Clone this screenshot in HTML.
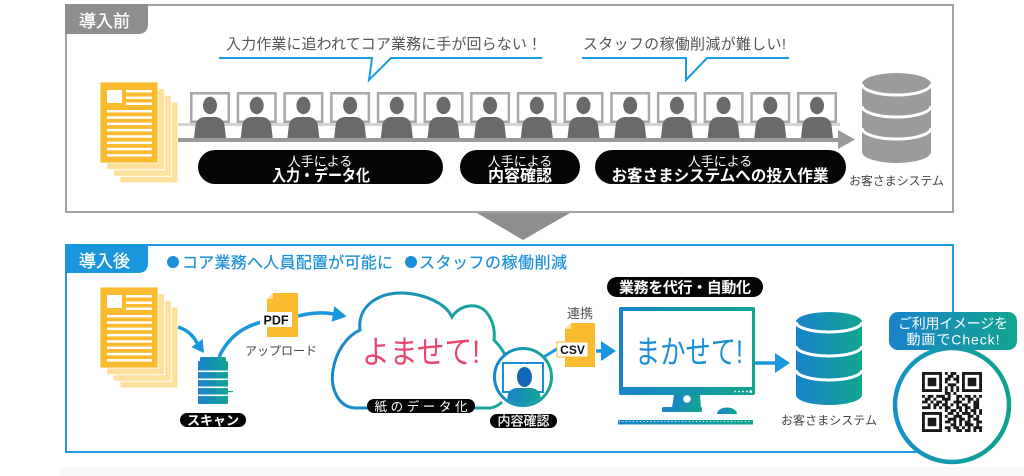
<!DOCTYPE html>
<html lang="ja"><head><meta charset="utf-8">
<style>
html,body{margin:0;padding:0;background:#fff;}
body{width:1024px;height:476px;overflow:hidden;}
svg{display:block;}
text{font-family:"Liberation Sans","Noto Sans CJK JP",sans-serif;}
</style></head>
<body>
<svg width="1024" height="476" viewBox="0 0 1024 476" xmlns="http://www.w3.org/2000/svg">
<defs>
  <linearGradient id="bt" x1="0" y1="0" x2="1" y2="0">
    <stop offset="0" stop-color="#1a82cc"/><stop offset="1" stop-color="#12a58f"/>
  </linearGradient>
  <linearGradient id="cg" gradientUnits="userSpaceOnUse" x1="330" y1="0" x2="510" y2="0">
    <stop offset="0" stop-color="#1a86cf"/><stop offset="1" stop-color="#16a894"/>
  </linearGradient>
  <linearGradient id="pg" gradientUnits="userSpaceOnUse" x1="494" y1="0" x2="552" y2="0">
    <stop offset="0" stop-color="#1a86cf"/><stop offset="1" stop-color="#16a894"/>
  </linearGradient>
  <linearGradient id="qg" gradientUnits="userSpaceOnUse" x1="893" y1="0" x2="1011" y2="0">
    <stop offset="0" stop-color="#1692c6"/><stop offset="1" stop-color="#10a28c"/>
  </linearGradient>
  <clipPath id="pc"><circle cx="523" cy="377" r="27"/></clipPath>
  <g id="ws">
    <rect x="1.25" y="93.25" width="37.5" height="28.5" fill="#fff" stroke="#a8a8a8" stroke-width="2.5"/>
    <path d="M4,138 L5.5,125 Q7,118 14,117 L26,117 Q33,118 34.5,125 L36,138 Z" fill="#6a6a6a"/>
    <ellipse cx="20" cy="105.5" rx="7" ry="8.7" fill="#6a6a6a"/>
  </g>
  <g id="docs">
    <rect x="120" y="102" width="58" height="81" fill="#fedf9b" stroke="#fff" stroke-width="1"/>
    <rect x="113.3" y="95.3" width="58" height="81" fill="#fedf9b" stroke="#fff" stroke-width="1"/>
    <rect x="106.7" y="88.7" width="58" height="81" fill="#fedf9b" stroke="#fff" stroke-width="1"/>
    <rect x="100" y="82" width="58" height="81" fill="#fbbb2e" stroke="#fff" stroke-width="0.8"/>
    <g fill="#fff">
      <rect x="107" y="90" width="15" height="13"/>
      <rect x="126" y="90" width="26" height="2.5"/>
      <rect x="126" y="96.5" width="26" height="2.5"/>
      <rect x="126" y="102.5" width="26" height="2.5"/>
      <rect x="107" y="110" width="45" height="2.5"/>
      <rect x="107" y="116.3" width="45" height="2.5"/>
      <rect x="107" y="122.6" width="45" height="2.5"/>
      <rect x="107" y="128.9" width="45" height="2.5"/>
      <rect x="107" y="135.2" width="45" height="2.5"/>
      <rect x="107" y="141.5" width="45" height="2.5"/>
      <rect x="107" y="147.8" width="45" height="2.5"/>
      <rect x="107" y="154.1" width="45" height="2.5"/>
    </g>
  </g>
</defs>

<!-- bottom faint band -->
<rect x="60" y="467" width="964" height="9" fill="#f8f8f8"/>

<!-- ===== TOP BOX ===== -->
<rect x="66" y="5" width="887" height="207" fill="#fff" stroke="#a2a2a2" stroke-width="2"/>
<path d="M65,4 H148 V24 Q148,34 138,34 H65 Z" fill="#8e8e8e"/>
<text x="104.5" y="27" font-size="17" fill="#fff" text-anchor="middle" stroke="#fff" stroke-width="0.3">導入前</text>

<!-- speech -->
<text x="226" y="49" font-size="15" fill="#555" textLength="316">入力作業に追われてコア業務に手が回らない！</text>
<path d="M219,58 H372 L369,80 L391,58 H542" fill="none" stroke="#1a9be0" stroke-width="2"/>
<text x="583" y="49" font-size="15" fill="#555" textLength="203">スタッフの稼働削減が難しい!</text>
<path d="M582,58 H686 L686,80 L707,58 H789" fill="none" stroke="#1a9be0" stroke-width="2"/>

<!-- doc stack top -->
<use href="#docs"/>

<!-- desk + line -->
<rect x="178" y="123" width="662" height="3" fill="#d4d4d4"/>
<use href="#ws" x="190"/>
<use href="#ws" x="236.7"/>
<use href="#ws" x="283.4"/>
<use href="#ws" x="330.1"/>
<use href="#ws" x="376.8"/>
<use href="#ws" x="423.5"/>
<use href="#ws" x="470.1"/>
<use href="#ws" x="516.8"/>
<use href="#ws" x="563.5"/>
<use href="#ws" x="610.2"/>
<use href="#ws" x="656.9"/>
<use href="#ws" x="703.6"/>
<use href="#ws" x="750.3"/>
<use href="#ws" x="797"/>
<rect x="178" y="138" width="662" height="4" fill="#9a9a9a"/>
<polygon points="838,130 838,149 855,139.5" fill="#9a9a9a"/>

<!-- pills -->
<rect x="198" y="150" width="245" height="34" rx="17" fill="#050505"/>
<text x="320" y="166" font-size="13" fill="#fff" text-anchor="middle">人手による</text>
<text x="321" y="181" font-size="16" font-weight="bold" fill="#fff" text-anchor="middle" textLength="98" lengthAdjust="spacingAndGlyphs">入力・データ化</text>

<rect x="460" y="150" width="120" height="34" rx="17" fill="#050505"/>
<text x="520" y="166" font-size="13" fill="#fff" text-anchor="middle">人手による</text>
<text x="520" y="181" font-size="16" font-weight="bold" fill="#fff" text-anchor="middle">内容確認</text>

<rect x="595" y="150" width="251" height="34" rx="17" fill="#050505"/>
<text x="720" y="166" font-size="13" fill="#fff" text-anchor="middle">人手による</text>
<text x="720" y="181" font-size="16" font-weight="bold" fill="#fff" text-anchor="middle" textLength="217" lengthAdjust="spacingAndGlyphs">お客さまシステムへの投入作業</text>

<!-- top DB -->
<g fill="#9b9b9b">
  <path d="M862,84 V152 A34.5,11 0 0 0 931,152 V84 Z"/>
  <ellipse cx="896.5" cy="84" rx="34.5" ry="11"/>
</g>
<g fill="none" stroke="#fff" stroke-width="3">
  <path d="M862,84 A34.5,11 0 0 0 931,84"/>
  <path d="M862,106 A34.5,11 0 0 0 931,106"/>
  <path d="M862,128 A34.5,11 0 0 0 931,128"/>
</g>
<text x="849" y="185" font-size="12" fill="#444" textLength="95">お客さまシステム</text>

<!-- down arrow -->
<polygon points="477,213 570,213 523,240" fill="#8e8e8e"/>

<!-- ===== BOTTOM BOX ===== -->
<rect x="66" y="245" width="887" height="207" fill="none" stroke="#1e9be0" stroke-width="2"/>
<path d="M65,244 H148 V263 Q148,273 138,273 H65 Z" fill="#1a96dc"/>
<text x="104.5" y="267" font-size="17" fill="#fff" text-anchor="middle" stroke="#fff" stroke-width="0.3">導入後</text>
<circle cx="173" cy="262" r="6" fill="#1a8fd8"/>
<circle cx="411" cy="262" r="6" fill="#1a8fd8"/>
<text x="182" y="268" font-size="16" fill="#1a8fd8" stroke="#1a8fd8" stroke-width="0.2" textLength="211">コア業務へ人員配置が可能に</text>
<text x="419" y="268" font-size="16" fill="#1a8fd8" stroke="#1a8fd8" stroke-width="0.2" textLength="148">スタッフの稼働削減</text>

<!-- docs bottom -->
<use href="#docs" y="205"/>

<!-- arrows blue -->
<g fill="none" stroke="#1a96de" stroke-width="3.5">
  <path d="M178,327 Q191,331 197,343"/>
  <path d="M219,357 Q232,329 262,322"/>
  <path d="M298,316 Q318,311 334,314"/>
  <path d="M542,358 L562,346" stroke-width="3"/>
  <path d="M596,351 H603"/>
  <path d="M755,363 H777"/>
</g>
<g fill="#1a96de">
  <polygon points="204,353 191.3,347.1 202.7,338.9"/>
  <polygon points="346.7,316.5 331.6,321.8 334.4,306.2"/>
  <polygon points="601,341 601,361 616,351"/>
  <polygon points="775,353 775,373 790,363"/>
</g>

<!-- scanner -->
<rect x="200" y="357" width="26" height="6" rx="1.5" fill="url(#bt)"/>
<rect x="198" y="361" width="30" height="43" rx="1.5" fill="url(#bt)"/>
<g fill="#fff">
  <rect x="198" y="370.5" width="30" height="1.6"/>
  <rect x="198" y="378.5" width="30" height="1.6"/>
  <rect x="198" y="386.5" width="30" height="1.6"/>
  <rect x="198" y="394.5" width="30" height="1.6"/>
</g>
<rect x="228" y="391" width="5" height="1.2" fill="#17a394"/>
<rect x="180" y="413" width="66" height="14" rx="7" fill="#050505"/>
<text x="213" y="425" font-size="13" font-weight="bold" fill="#fff" text-anchor="middle">スキャン</text>

<!-- PDF -->
<polygon points="273,293 298,293 298,337 267,337 267,299" fill="#fbbb2e"/>
<polygon points="267,299 273,299 273,293" fill="#fedf9b"/>
<rect x="260" y="312" width="32" height="15" fill="#fff"/>
<text x="276" y="324.5" font-size="12.5" font-weight="bold" fill="#111" text-anchor="middle">PDF</text>
<text x="245" y="355" font-size="12" fill="#444" textLength="72">アップロード</text>

<!-- cloud -->
<path d="M355,408 C338,407 330,388 333,370 C336,351 347,336 360,330 C357,306 379,292 403,293 C426,294 446,304 452,317 C459,305 478,301 487,313 C494,322 495,333 494,340 C499,345 503,350 506,357" fill="none" stroke="url(#cg)" stroke-width="3"/>
<path d="M355,408 L490,408 Q497,407 502,402" fill="none" stroke="url(#cg)" stroke-width="3"/>
<text x="362" y="363" font-size="32" fill="#e8466b" textLength="118" lengthAdjust="spacingAndGlyphs">よませて!</text>
<rect x="367" y="399" width="108" height="14" rx="7" fill="#050505"/>
<text x="421" y="411" font-size="12.5" fill="#fff" text-anchor="middle" textLength="93">紙のデータ化</text>

<!-- person circle -->
<circle cx="523" cy="377" r="28.5" fill="#fff" stroke="url(#pg)" stroke-width="3"/>
<rect x="503" y="363" width="40" height="29" fill="#fff" stroke="#1a8fd8" stroke-width="2"/>
<path d="M506,406 L508,394 Q510,389 516,388 L532,388 Q538,389 540,394 L542,406 Z" fill="url(#bt)" clip-path="url(#pc)"/>
<ellipse cx="524.5" cy="377" rx="7.5" ry="10" fill="#1467b3"/>
<rect x="490" y="414" width="67" height="14" rx="7" fill="#050505"/>
<text x="523.5" y="425.5" font-size="13" fill="#fff" text-anchor="middle" stroke="#fff" stroke-width="0.2">内容確認</text>

<!-- CSV -->
<text x="580" y="318" font-size="13" fill="#555" text-anchor="middle">連携</text>
<polygon points="571,323 595,323 595,367 565,367 565,329" fill="#fbbb2e"/>
<polygon points="565,329 571,329 571,323" fill="#fedf9b"/>
<rect x="557" y="342" width="31" height="15" fill="#fff" stroke="#fbbb2e" stroke-width="1"/>
<text x="572.5" y="354" font-size="12" font-weight="bold" fill="#111" text-anchor="middle">CSV</text>

<!-- monitor -->
<rect x="607" y="277" width="156" height="20" rx="10" fill="#050505"/>
<text x="685" y="292.5" font-size="15" font-weight="bold" fill="#fff" text-anchor="middle" textLength="132">業務を代行・自動化</text>
<rect x="619" y="307" width="136" height="88" rx="2" fill="url(#bt)"/>
<rect x="623" y="311" width="129" height="76" fill="#fff"/>
<g fill="#fff">
  <circle cx="735" cy="391.5" r="0.9"/><circle cx="739" cy="391.5" r="0.9"/>
  <circle cx="743" cy="391.5" r="0.9"/><circle cx="747" cy="391.5" r="0.9"/>
  <rect x="749.5" y="390.3" width="2.5" height="2.5"/>
</g>
<text x="635" y="363" font-size="32" fill="#1a8fd8" textLength="108" lengthAdjust="spacingAndGlyphs">まかせて!</text>
<polygon points="674,395 700,395 701,408 672,408" fill="url(#bt)"/>
<circle cx="687" cy="399" r="3.8" fill="#fff"/>
<rect x="662" y="407" width="40" height="5" rx="1.5" fill="url(#bt)"/>
<path d="M717,414 A10,6.5 0 0 1 737,414 Z" fill="url(#bt)"/>
<rect x="618" y="420" width="135" height="4.5" fill="url(#bt)"/>
<line x1="619" y1="421.5" x2="752" y2="421.5" stroke="#fff" stroke-width="1" stroke-dasharray="1 2.5"/>

<!-- bottom DB -->
<g fill="url(#bt)">
  <path d="M796,322 V395 A33,10 0 0 0 862,395 V322 Z"/>
  <ellipse cx="829" cy="322" rx="33" ry="10"/>
</g>
<g fill="none" stroke="#fff" stroke-width="3">
  <path d="M796,322 A33,10 0 0 0 862,322"/>
  <path d="M796,346 A33,10 0 0 0 862,346"/>
  <path d="M796,370 A33,10 0 0 0 862,370"/>
</g>
<text x="781" y="424.5" font-size="12" fill="#444" textLength="96">お客さまシステム</text>

<!-- QR bubble -->
<circle cx="952" cy="405" r="57" fill="#fff" stroke="url(#qg)" stroke-width="4.5"/>
<rect x="889" y="312" width="128" height="38" rx="9" fill="url(#bt)"/>
<text x="953" y="328.5" font-size="14" fill="#fff" text-anchor="middle" textLength="110">ご利用イメージを</text>
<text x="953" y="344.5" font-size="14" fill="#fff" text-anchor="middle" textLength="93">動画でCheck!</text>
<g transform="translate(922,372) scale(2.857)" fill="#1a1a1a">
  <path d="M0,0h7v7h-7z M1,1v5h5v-5z M2,2h3v3h-3z" fill-rule="evenodd"/>
  <path d="M14,0h7v7h-7z M15,1v5h5v-5z M16,2h3v3h-3z" fill-rule="evenodd"/>
  <path d="M0,14h7v7h-7z M1,15v5h5v-5z M2,16h3v3h-3z" fill-rule="evenodd"/>
  <path d="M8,0h1v1h-1z M10,0h2v1h-2z
  M9,1h2v1h-2z M12,1h1v1h-1z
  M8,2h2v1h-2z M11,2h2v1h-2z
  M8,3h1v1h-1z M12,3h1v1h-1z
  M9,4h3v1h-3z
  M8,5h1v1h-1z M10,5h1v1h-1z M12,5h1v1h-1z
  M8,6h1v1h-1z M10,6h1v1h-1z M12,6h1v1h-1z
  M8,7h2v1h-2z M11,7h1v1h-1z
  M0,8h1v1h-1z M2,8h2v1h-2z M5,8h3v1h-3z M9,8h1v1h-1z M12,8h2v1h-2z M15,8h2v1h-2z M18,8h1v1h-1z M20,8h1v1h-1z
  M1,9h2v1h-2z M4,9h1v1h-1z M7,9h3v1h-3z M12,9h1v1h-1z M14,9h1v1h-1z M16,9h2v1h-2z M19,9h1v1h-1z
  M0,10h2v1h-2z M3,10h1v1h-1z M5,10h2v1h-2z M8,10h1v1h-1z M11,10h3v1h-3z M16,10h1v1h-1z M18,10h2v1h-2z
  M2,11h1v1h-1z M4,11h2v1h-2z M7,11h2v1h-2z M10,11h1v1h-1z M12,11h1v1h-1z M14,11h2v1h-2z M18,11h2v1h-2z
  M0,12h3v1h-3z M4,12h1v1h-1z M6,12h1v1h-1z M8,12h2v1h-2z M12,12h2v1h-2z M15,12h2v1h-2z M18,12h2v1h-2z
  M8,13h1v1h-1z M10,13h2v1h-2z M13,13h1v1h-1z M15,13h1v1h-1z M17,13h2v1h-2z M20,13h1v1h-1z
  M9,14h2v1h-2z M12,14h1v1h-1z M14,14h3v1h-3z M18,14h1v1h-1z M20,14h1v1h-1z
  M8,15h1v1h-1z M11,15h3v1h-3z M16,15h2v1h-2z M19,15h1v1h-1z
  M9,16h3v1h-3z M13,16h2v1h-2z M16,16h1v1h-1z M18,16h2v1h-2z
  M8,17h2v1h-2z M11,17h1v1h-1z M13,17h1v1h-1z M15,17h2v1h-2z M19,17h2v1h-2z
  M10,18h2v1h-2z M13,18h1v1h-1z M15,18h3v1h-3z M19,18h1v1h-1z
  M8,19h2v1h-2z M11,19h2v1h-2z M14,19h1v1h-1z M16,19h1v1h-1z M18,19h3v1h-3z
  M9,20h1v1h-1z M12,20h2v1h-2z M15,20h2v1h-2z M18,20h1v1h-1z M20,20h1v1h-1z"/>
</g>
</svg>
</body></html>
